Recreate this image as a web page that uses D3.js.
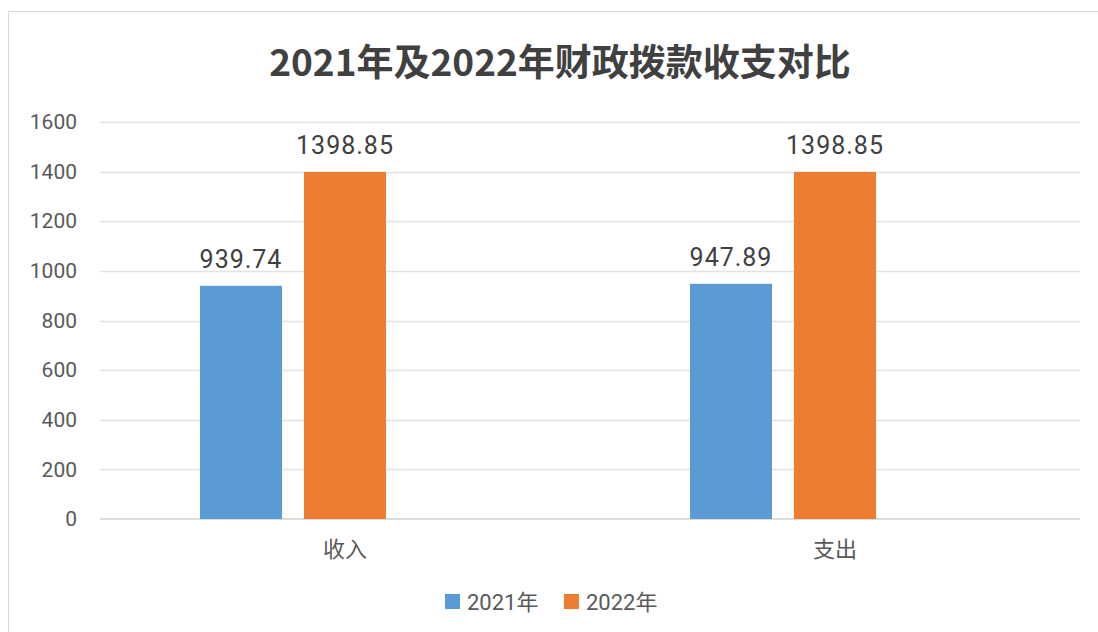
<!DOCTYPE html>
<html><head><meta charset="utf-8">
<script src="https://cdn.jsdelivr.net/npm/d3@7"></script>
<style>body{margin:0;background:#fff;}svg{display:block;font-family:Roboto,"Noto Sans CJK SC",sans-serif;}</style>
</head><body><svg id="c" width="1098" height="632"></svg>
<script>
const title = "2021年及2022年财政拨款收支对比";
const categories = ["收入", "支出"];
const seriesNames = ["2021年", "2022年"];
const values2021 = [939.74, 947.89];
const values2022 = [1398.85, 1398.85];
const yTicks = [0, 200, 400, 600, 800, 1000, 1200, 1400, 1600];
const colors = ["#5b9bd5", "#ed7d31"];

const svg = d3.select("#c");
svg.append("rect").attr("x", 8.5).attr("y", 11.5).attr("width", 1100).attr("height", 640)
  .attr("fill", "#fff").attr("stroke", "#d9d9d9").attr("stroke-width", 1);

const pLeft = 100, pRight = 1080, pTop = 122, pBottom = 519;
const x0 = d3.scaleBand().domain(categories).range([pLeft, pRight]).paddingInner(0).paddingOuter(0);
const x1 = d3.scaleBand().domain(seriesNames).range([100, 286]).paddingInner(22/104).paddingOuter(0);
const y = d3.scaleLinear().domain([0, 1600]).range([pBottom, pTop]);

svg.append("text").attr("x", 560).attr("y", 76).attr("text-anchor", "middle")
  .attr("font-size", 37).attr("font-weight", "bold").attr("fill", "#404040")
  .attr("font-family", "'Noto Sans CJK SC', sans-serif").text(title);

const yAxis = d3.axisLeft(y).tickValues(yTicks).tickFormat(d3.format("d")).tickSize(0).tickPadding(0);
const gy = svg.append("g").attr("transform", `translate(${pLeft - 23},0)`).call(yAxis);
gy.select(".domain").remove();
gy.selectAll("text").attr("font-size", 21).attr("fill", "#595959").attr("font-family", "Roboto, sans-serif");

svg.append("g").selectAll("line").data(yTicks.filter(d => d > 0)).join("line")
  .attr("x1", pLeft).attr("x2", pRight).attr("y1", d => Math.round(y(d)) + 0.5).attr("y2", d => Math.round(y(d)) + 0.5)
  .attr("stroke", "#e3e3e3").attr("stroke-width", 1.5);
svg.append("line").attr("x1", pLeft).attr("x2", pRight).attr("y1", y(0)).attr("y2", y(0))
  .attr("stroke", "#d0d0d0").attr("stroke-width", 1.5);

const data = categories.map((c, i) => ({cat: c, vals: [values2021[i], values2022[i]]}));
const groups = svg.append("g").selectAll("g").data(data).join("g")
  .attr("transform", d => `translate(${x0(d.cat)},0)`);
groups.selectAll("rect").data(d => d.vals.map((v, j) => ({s: seriesNames[j], v, j}))).join("rect")
  .attr("x", d => x1(d.s)).attr("width", x1.bandwidth())
  .attr("y", d => y(d.v)).attr("height", d => y(0) - y(d.v))
  .attr("fill", d => colors[d.j]);
groups.selectAll("text").data(d => d.vals.map((v, j) => ({s: seriesNames[j], v, j}))).join("text")
  .attr("x", d => x1(d.s) + x1.bandwidth() / 2).attr("y", d => y(d.v) - 18)
  .attr("text-anchor", "middle").attr("font-size", 25).attr("fill", "#404040")
  .attr("font-family", "Roboto, sans-serif").attr("letter-spacing", 1)
  .text(d => d3.format(".2f")(d.v));

const xAxis = d3.axisBottom(x0).tickSize(0).tickPadding(0);
const gx = svg.append("g").attr("transform", `translate(0,${pBottom + 38})`).call(xAxis);
gx.select(".domain").remove();
gx.selectAll("text").attr("dy", 0).attr("font-size", 22).attr("fill", "#595959")
  .attr("font-family", "'Noto Sans CJK SC', sans-serif");

const legendX = [445, 564];
const lg = svg.append("g").selectAll("g").data(seriesNames).join("g")
  .attr("transform", (d, i) => `translate(${legendX[i]},594)`);
lg.append("rect").attr("width", 15).attr("height", 15).attr("fill", (d, i) => colors[i]);
lg.append("text").attr("x", 22).attr("y", 16).attr("font-size", 22).attr("fill", "#595959")
  .attr("font-family", "Roboto, 'Noto Sans CJK SC', sans-serif").text(d => d);
</script></body></html>
